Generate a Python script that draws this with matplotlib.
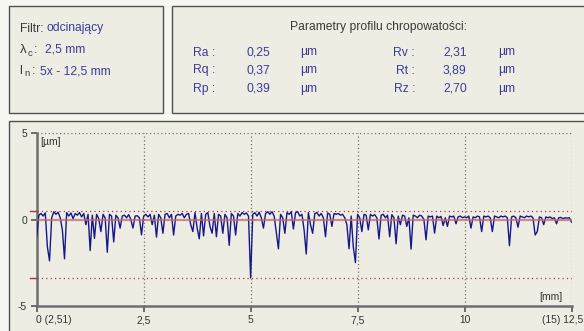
import numpy as np
import matplotlib
matplotlib.use('Agg')
from matplotlib import pyplot as plt
from matplotlib.patches import Rectangle
import matplotlib.transforms as mtransforms

plt.rcParams['font.family'] = ['Liberation Sans', 'DejaVu Sans']

# roughness profile, sampled every 0.05 mm from 0 to 12.5 mm  [um]
step_mm = 0.05
profile = [
    -1.00, 0.25, 0.35, 0.20, 0.38, -1.60, -2.40, 0.10, 0.45, 0.30,
    0.42, 0.10, -0.60, -2.28, 0.40, 0.20, 0.38, 0.05, 0.35, 0.25,
    0.40, 0.15, 0.35, -0.30, 0.30, -1.80, 0.25, -1.10, 0.30, 0.05,
    -0.70, 0.30, 0.10, -1.90, 0.30, 0.20, -1.30, 0.25, 0.10, -0.50,
    0.20, 0.25, 0.10, 0.28, 0.00, -0.50, 0.20, 0.22, 0.10, -0.89,
    0.20, 0.30, 0.15, 0.30, -0.30, 0.25, -1.02, 0.30, 0.10, -0.80,
    0.30, 0.35, 0.10, 0.30, -0.90, 0.20, 0.30, 0.25, 0.35, 0.10,
    0.30, 0.35, -0.30, -0.70, 0.40, -0.50, -1.12, 0.35, -0.95, 0.30,
    0.40, -0.40, -0.80, 0.35, -1.00, 0.30, 0.20, -0.80, 0.30, 0.10,
    -1.50, 0.35, 0.20, -0.90, 0.35, 0.20, 0.40, 0.30, 0.38, 0.20,
    -3.39, 0.30, 0.40, 0.20, 0.42, 0.10, -0.50, 0.35, 0.45, 0.30,
    0.45, 0.20, -0.75, -1.70, 0.30, 0.10, -0.80, 0.40, 0.30, 0.45,
    -0.55, 0.40, 0.45, 0.20, 0.30, -0.60, -2.00, 0.40, -0.30, -0.80,
    0.35, 0.40, 0.20, 0.35, 0.10, -1.00, 0.38, 0.30, -0.40, 0.35,
    0.30, 0.35, 0.25, 0.30, 0.10, -0.30, -1.70, 0.20, -1.60, -2.50,
    0.30, 0.10, -0.70, 0.30, 0.25, -0.60, 0.30, 0.20, 0.28, 0.10,
    -1.13, 0.25, 0.30, 0.10, 0.25, -1.00, 0.28, 0.10, -1.41, 0.20,
    -0.30, 0.25, 0.20, -0.40, 0.10, -1.72, 0.25, 0.20, 0.10, 0.25,
    0.20, 0.00, -1.18, 0.20, 0.15, 0.20, -0.79, 0.20, 0.10, 0.18,
    -0.35, 0.10, -0.40, 0.20, 0.15, 0.20, -0.25, 0.15, 0.20, 0.10,
    0.15, 0.10, 0.20, -0.50, 0.15, 0.10, 0.20, 0.15, -0.70, 0.20,
    0.15, 0.20, 0.10, -0.70, 0.20, 0.15, 0.10, 0.20, 0.15, 0.20,
    0.10, -1.52, 0.15, 0.20, 0.10, -0.45, 0.20, 0.15, 0.10, 0.20,
    0.15, 0.20, 0.10, -0.90, -0.70, 0.15, 0.10, -0.30, 0.15, 0.10,
    0.15, 0.05, 0.10, -0.25, 0.10, 0.12, 0.05, 0.10, 0.08, 0.10,
    -0.15,
]
peak_line = 0.52
valley_line = -3.40

xticks = [0, 2.5, 5, 7.5, 10, 12.5]
xticklabels = ['0 (2,51)', '2,5', '5', '7,5', '10', '(15) 12,5']
yticks = [-5, 0, 5]
yticklabels = ['-5', '0', '5']

params_left = [('Ra :', '0,25'), ('Rq :', '0,37'), ('Rp :', '0,39')]
params_right = [('Rv :', '2,31'), ('Rt :', '3,89'), ('Rz :', '2,70')]

W, H = 584, 331
bg = '#f7f7f2'
panel = '#eeede3'
blue_txt = '#3b3b9a'
grey_txt = '#3a3a3a'

fig = plt.figure(figsize=(W / 100, H / 100), dpi=100, facecolor=bg)

def fx(px):
    return px / W

def fy(py):
    return 1 - py / H

def box(x0, y0, x1, y1):
    fig.add_artist(Rectangle((fx(x0), fy(y1)), fx(x1) - fx(x0), fy(y0) - fy(y1),
                             transform=fig.transFigure, facecolor=panel,
                             edgecolor='#505050', linewidth=1.0, zorder=0))

box(8.5, 5.5, 162.5, 112.5)
box(171.5, 5.5, 600, 112.5)
box(8.5, 120.5, 600, 345)

# filter box
fig.text(fx(20), fy(28.5), 'Filtr:', color=grey_txt, fontsize=8.7, va='center')
fig.text(fx(46.5), fy(28.5), 'odcinający', color=blue_txt, fontsize=8.7, va='center')
fig.text(fx(19.5), fy(50), 'λ', color=grey_txt, fontsize=9.5, va='center')
fig.text(fx(27.5), fy(53), 'c', color=grey_txt, fontsize=6.8, va='center')
fig.text(fx(33.5), fy(50), ':', color=grey_txt, fontsize=8.7, va='center')
fig.text(fx(45), fy(50), '2,5 mm', color=blue_txt, fontsize=8.7, va='center')
fig.text(fx(19.5), fy(71), 'l', color=grey_txt, fontsize=8.7, va='center')
fig.text(fx(24.5), fy(74), 'n', color=grey_txt, fontsize=6.8, va='center')
fig.text(fx(31.5), fy(71), ':', color=grey_txt, fontsize=8.7, va='center')
fig.text(fx(40.5), fy(71), '5x - 12,5 mm', color=blue_txt, fontsize=8.7, va='center')

# parameter box
fig.text(fx(378), fy(27), 'Parametry profilu chropowatości:', color=grey_txt,
         fontsize=8.7, ha='center', va='center')
rows_y = [52.5, 70.5, 88.5]
for (name, val), y in zip(params_left, rows_y):
    fig.text(fx(215), fy(y), name, color=blue_txt, fontsize=8.7, ha='right', va='center')
    fig.text(fx(246.5), fy(y), val, color=blue_txt, fontsize=8.7, va='center')
    fig.text(fx(300), fy(y), 'µm', color=blue_txt, fontsize=8.7, va='center')
for (name, val), y in zip(params_right, rows_y):
    fig.text(fx(415), fy(y), name, color=blue_txt, fontsize=8.7, ha='right', va='center')
    fig.text(fx(443), fy(y), val, color=blue_txt, fontsize=8.7, va='center')
    fig.text(fx(498), fy(y), 'µm', color=blue_txt, fontsize=8.7, va='center')

# profile axes
ax = fig.add_axes([fx(36.7), fy(305.7), fx(571.5) - fx(36.7), fy(133.3) - fy(305.7)])
ax.patch.set_alpha(0)
z = np.array(profile)
x = np.arange(len(z)) * step_mm
ax.set_xlim(0, 12.5)
ax.set_ylim(-5, 5)

for xv in xticks[1:]:
    ax.axvline(xv, color='#707070', linestyle=(0, (1, 2)), linewidth=0.9, zorder=1)
ax.axhline(5, color='#707070', linestyle=(0, (1, 2)), linewidth=0.9, zorder=1)
ax.axhline(peak_line, color='#a03c3c', linestyle=(0, (1, 2.5)), linewidth=0.9, zorder=1)
ax.axhline(valley_line, color='#a03c3c', linestyle=(0, (1, 2.5)), linewidth=0.9, zorder=1)

ax.plot(x, z, color='#17178c', linewidth=1.0, zorder=3)
ax.axhline(0, color='#c06a6a', linewidth=1.6, alpha=0.75, zorder=4)

for s in ['top', 'right']:
    ax.spines[s].set_visible(False)
for s in ['left', 'bottom']:
    ax.spines[s].set_color('#6e6e6e')
    ax.spines[s].set_linewidth(1.8)

ax.set_xticks(xticks)
ax.set_xticklabels(xticklabels)
ax.set_yticks(yticks)
ax.set_yticklabels(yticklabels)
ax.tick_params(axis='both', length=4.5, width=1.2, color='#555555',
               labelsize=7.4, labelcolor='#333333', pad=2.5)

# red level ticks on the y axis
for lv in [peak_line, valley_line]:
    ax.plot([-0.15, 0], [lv, lv], color='#a03c3c', linewidth=1.0, clip_on=False, zorder=5)

labs = ax.get_xticklabels()
labs[0].set_horizontalalignment('left')
labs[0].set_transform(labs[0].get_transform() +
                      mtransforms.ScaledTranslation(-1 / 100, 0, fig.dpi_scale_trans))
labs[-1].set_horizontalalignment('right')
labs[-1].set_transform(labs[-1].get_transform() +
                       mtransforms.ScaledTranslation(12 / 100, 0, fig.dpi_scale_trans))

ax.annotate('[µm]', xy=(0, 1), xycoords='axes fraction', xytext=(4, -8.5),
            textcoords='offset pixels', fontsize=7.4, color='#333333', va='center')
ax.annotate('[mm]', xy=(1, 0), xycoords='axes fraction', xytext=(-9, 8.5),
            textcoords='offset pixels', fontsize=7.4, color='#333333', va='center', ha='right')

fig.savefig('out.png', dpi=100, facecolor=bg)
